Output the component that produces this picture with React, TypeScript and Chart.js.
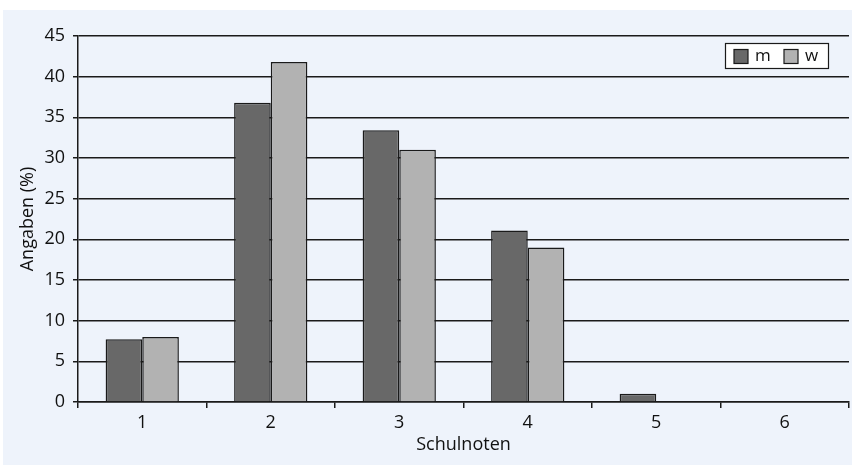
import React, { useEffect, useRef } from "react";
import { Chart, registerables } from "chart.js";

Chart.register(...registerables);

// Schulnoten (school grades) on the x axis, share of answers in percent
const grades = ["1", "2", "3", "4", "5", "6"];
const maleValues = [7.7, 36.8, 33.4, 21.1, 1.0, 0];
const femaleValues = [8.0, 41.8, 31.0, 19.0, 0, 0];
const seriesLabels = ["m", "w"];
const yTicks = [0, 5, 10, 15, 20, 25, 30, 35, 40, 45];

const FONT = "'Open Sans', 'DejaVu Sans', sans-serif";
const DARK = "#686868";
const LIGHT = "#b2b2b2";
const INK = "#1a1a1a";

// Boxed legend in the upper right of the plot area
const boxedLegend = {
  id: "boxedLegend",
  afterDraw(chart: any) {
    const { ctx, chartArea } = chart;
    const boxW = 104;
    const boxH = 26;
    const x0 = chartArea.right - 20 - boxW;
    const y0 = chartArea.top + 7;
    ctx.save();
    ctx.fillStyle = "#ffffff";
    ctx.fillRect(x0, y0, boxW, boxH);
    ctx.strokeStyle = INK;
    ctx.lineWidth = 1.2;
    ctx.strokeRect(x0 + 0.5, y0 + 0.5, boxW - 1, boxH - 1);
    ctx.font = `17px ${FONT}`;
    ctx.textBaseline = "middle";
    let x = x0 + 9;
    chart.data.datasets.forEach((ds: any) => {
      ctx.fillStyle = ds.backgroundColor;
      ctx.fillRect(x, y0 + 6.5, 14, 14);
      ctx.strokeStyle = INK;
      ctx.lineWidth = 1.2;
      ctx.strokeRect(x, y0 + 6.5, 14, 14);
      ctx.fillStyle = "#111";
      ctx.fillText(ds.label, x + 21, y0 + boxH / 2 + 0.5);
      x += 50;
    });
    ctx.restore();
  },
};

export default function App() {
  const canvasRef = useRef<HTMLCanvasElement | null>(null);

  useEffect(() => {
    if (!canvasRef.current) return;
    const chart = new Chart(canvasRef.current, {
      type: "bar",
      data: {
        labels: grades,
        datasets: [
          {
            label: seriesLabels[0],
            data: maleValues,
            backgroundColor: DARK,
            borderColor: INK,
            borderWidth: 1.5,
          },
          {
            label: seriesLabels[1],
            data: femaleValues,
            backgroundColor: LIGHT,
            borderColor: INK,
            borderWidth: 1.5,
          },
        ],
      },
      options: {
        responsive: false,
        animation: false,
        devicePixelRatio: 1,
        layout: { padding: { top: 26, right: 3, bottom: 0, left: 0 } },
        datasets: {
          bar: { barPercentage: 1, categoryPercentage: 0.57, borderSkipped: "start" },
        },
        plugins: {
          legend: { display: false },
          tooltip: { enabled: false },
        },
        scales: {
          x: {
            afterFit: (scale: any) => {
              scale.height = 63;
            },
            grid: {
              display: true,
              offset: true,
              drawOnChartArea: false,
              drawTicks: true,
              tickLength: 6,
              color: INK,
              lineWidth: 1.5,
            },
            border: { display: true, color: INK, width: 1.5 },
            ticks: {
              color: "#111",
              font: { family: FONT, size: 18 },
              padding: 4,
            },
            title: {
              display: true,
              text: "Schulnoten",
              color: "#111",
              font: { family: FONT, size: 18 },
              padding: { top: 0, bottom: 9.2 },
            },
          },
          y: {
            min: 0,
            max: 45,
            afterFit: (scale: any) => {
              scale.width = 75;
            },
            afterBuildTicks: (scale: any) => {
              scale.ticks = yTicks.map((v) => ({ value: v }));
            },
            grid: {
              color: INK,
              lineWidth: 1.5,
              drawTicks: true,
              tickLength: 5,
            },
            border: { display: true, color: INK, width: 1.5 },
            ticks: {
              color: "#111",
              font: { family: FONT, size: 18 },
              padding: 8,
            },
            title: {
              display: true,
              text: "Angaben (%)",
              color: "#111",
              font: { family: FONT, size: 18 },
              padding: { top: 14.2, bottom: 0 },
            },
          },
        },
      },
      plugins: [boxedLegend],
    });
    return () => chart.destroy();
  }, []);

  return (
    <div
      style={{
        position: "absolute",
        left: 0,
        top: 0,
        width: 852,
        height: 465,
        background: "#ffffff",
        overflow: "hidden",
      }}
    >
      <div
        style={{
          position: "absolute",
          left: 3,
          top: 10,
          width: 849,
          height: 455,
          background: "#eef3fb",
        }}
      >
        <canvas
          ref={canvasRef}
          width={849}
          height={455}
          style={{ display: "block", width: 849, height: 455 }}
        />
      </div>
    </div>
  );
}
